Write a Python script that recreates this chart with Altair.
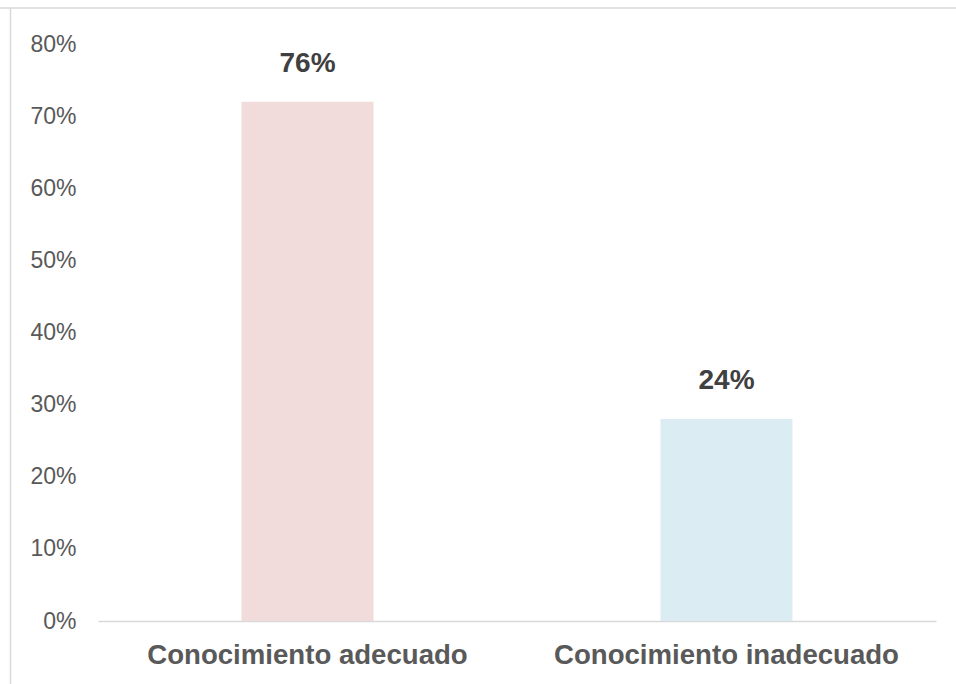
import altair as alt
import pandas as pd

categories = ["Conocimiento adecuado", "Conocimiento inadecuado"]
bar_values = [72, 28]
label_texts = ["76%", "24%"]
bar_colors = ["#f2dcdb", "#dbedf3"]
y_ticks = [0, 10, 20, 30, 40, 50, 60, 70, 80]

df = pd.DataFrame({"cat": categories, "val": bar_values, "lab": label_texts, "col": bar_colors})

PAD_L, PAD_T, W, H = 98, 44, 838, 577

x_enc = alt.X("cat:N", sort=categories, title=None,
              scale=alt.Scale(paddingInner=0, paddingOuter=0),
              axis=alt.Axis(labelAngle=0, labelFont="Liberation Sans", labelFontSize=27.6,
                            labelFontWeight="bold", labelColor="#595959", labelPadding=20,
                            labelLimit=0, ticks=False, domainColor="#d9d9d9", domainWidth=1.5,
                            grid=False))
y_enc = alt.Y("val:Q", title=None, scale=alt.Scale(domain=[0, 80], nice=False),
              axis=alt.Axis(values=y_ticks, labelExpr="datum.value + '%'",
                            labelFont="Liberation Sans", labelFontSize=23, labelColor="#595959",
                            labelPadding=22, ticks=False, domain=False, grid=False))

bars = alt.Chart(df).mark_bar(size=132).encode(
    x=x_enc, y=y_enc, color=alt.Color("col:N", scale=None))

texts = alt.Chart(df).mark_text(font="Liberation Sans", fontSize=28, fontWeight="bold",
                                color="#404040", baseline="middle", dy=-38).encode(
    x=alt.X("cat:N", sort=categories), y="val:Q", text="lab:N")

frame_top = alt.Chart(pd.DataFrame({"k": [0]})).mark_rule(color="#d9d9d9", strokeWidth=1.5).encode(
    x=alt.value(-PAD_L), x2=alt.value(956 - PAD_L), y=alt.value(8 - PAD_T))
frame_left = alt.Chart(pd.DataFrame({"k": [0]})).mark_rule(color="#d9d9d9", strokeWidth=1.5).encode(
    x=alt.value(10.5 - PAD_L), y=alt.value(8 - PAD_T), y2=alt.value(684 - PAD_T))

chart = alt.layer(bars, texts, frame_top, frame_left).properties(
    width=W, height=H,
    padding={"left": PAD_L, "top": PAD_T, "right": 956 - PAD_L - W, "bottom": 684 - PAD_T - H},
    autosize=alt.AutoSizeParams(type="none"),
    background="white",
).configure_view(stroke=None)

chart.save("out.html", embed_options={"renderer": "svg", "actions": False})
